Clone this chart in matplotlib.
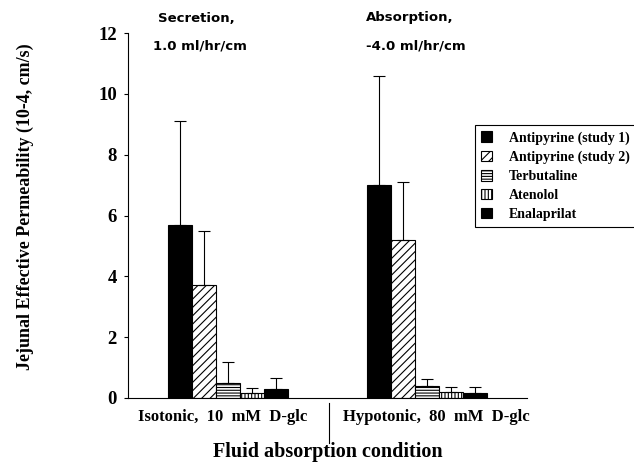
import matplotlib
matplotlib.use("Agg")
from matplotlib import pyplot as plt
import numpy as np

# data
conditions = ["Isotonic,  10  mM  D-glc", "Hypotonic,  80  mM  D-glc"]
drugs = ["Antipyrine (study 1)", "Antipyrine (study 2)", "Terbutaline", "Atenolol", "Enalaprilat"]
means = [
    [5.7, 7.0],   # antipyrine 1
    [3.7, 5.2],   # antipyrine 2
    [0.5, 0.4],   # terbutaline
    [0.15, 0.2],  # atenolol
    [0.3, 0.15],  # enalaprilat
]
sds = [
    [3.4, 3.6],
    [1.8, 1.9],
    [0.7, 0.22],
    [0.17, 0.15],
    [0.35, 0.2],
]
yticks = [0, 2, 4, 6, 8, 10, 12]

fills = ["black", "white", "white", "white", "black"]
hatches = [None, "////", "------", "|||||", None]

serif = "Liberation Serif"
plt.rcParams["hatch.linewidth"] = 0.8

fig = plt.figure(figsize=(6.34, 4.66), dpi=100)
ax = fig.add_axes([128/634, 68/466, 399/634, 365/466])

centers = np.array([4.15, 12.44])
w = 1.0
for i, d in enumerate(drugs):
    x = centers + (i - 2) * w
    ax.bar(x, means[i], width=w, color=fills[i], edgecolor="black",
           hatch=hatches[i], linewidth=0.8, label=d)
    ax.errorbar(x, means[i], yerr=[np.zeros(2), sds[i]], fmt="none",
                ecolor="black", elinewidth=0.8, capsize=4, capthick=0.8)

ax.set_xlim(0, 16.6)
ax.set_ylim(0, 12)
ax.set_yticks(yticks)
ax.set_yticklabels([str(t) for t in yticks], fontfamily=serif, fontweight="bold", fontsize=13.5)
ax.set_xticks(centers + np.array([-0.2, 0.37]))
ax.set_xticklabels(conditions, fontfamily=serif, fontweight="bold", fontsize=12)
ax.tick_params(axis="x", length=0, pad=8)
ax.tick_params(axis="y", length=3, direction="out", pad=5)
ax.spines["top"].set_visible(False)
ax.spines["right"].set_visible(False)

fig.text(25/634, 1-207/466, "Jejunal Effective Permeability (10-4, cm/s)", fontfamily=serif,
         fontweight="bold", fontsize=13, rotation=90, ha="center", va="center")

# divider between conditions and x label
fig.add_artist(plt.Line2D([329/634, 329/634], [1-403/466, 1-443/466], color="black", lw=0.8))
fig.text(328/634, 1-452/466, "Fluid absorption condition", fontfamily=serif,
         fontweight="bold", fontsize=14.5, ha="center", va="center")

# flow annotations
fig.text(196/634, 1-18/466, "Secretion,", fontfamily="DejaVu Sans", fontsize=9.5,
         fontweight="bold", ha="center", va="center")
fig.text(200/634, 1-46/466, "1.0 ml/hr/cm", fontfamily="DejaVu Sans", fontsize=9.5,
         fontweight="bold", ha="center", va="center")
fig.text(410/634, 1-18/466, "Absorption,", fontfamily="DejaVu Sans", fontsize=9.5,
         fontweight="bold", ha="center", va="center")
fig.text(416/634, 1-46/466, "-4.0 ml/hr/cm", fontfamily="DejaVu Sans", fontsize=9.5,
         fontweight="bold", ha="center", va="center")

leg = fig.legend(loc="upper left", bbox_to_anchor=(475/634, 1-125/466),
                 prop={"family": serif, "weight": "bold", "size": 10},
                 handlelength=0.8, handleheight=0.8, handletextpad=1.2,
                 labelspacing=0.42, fancybox=False, edgecolor="black",
                 borderaxespad=0, borderpad=0.45, framealpha=1)
leg.get_frame().set_linewidth(0.8)

fig.savefig("out.png", dpi=100)
